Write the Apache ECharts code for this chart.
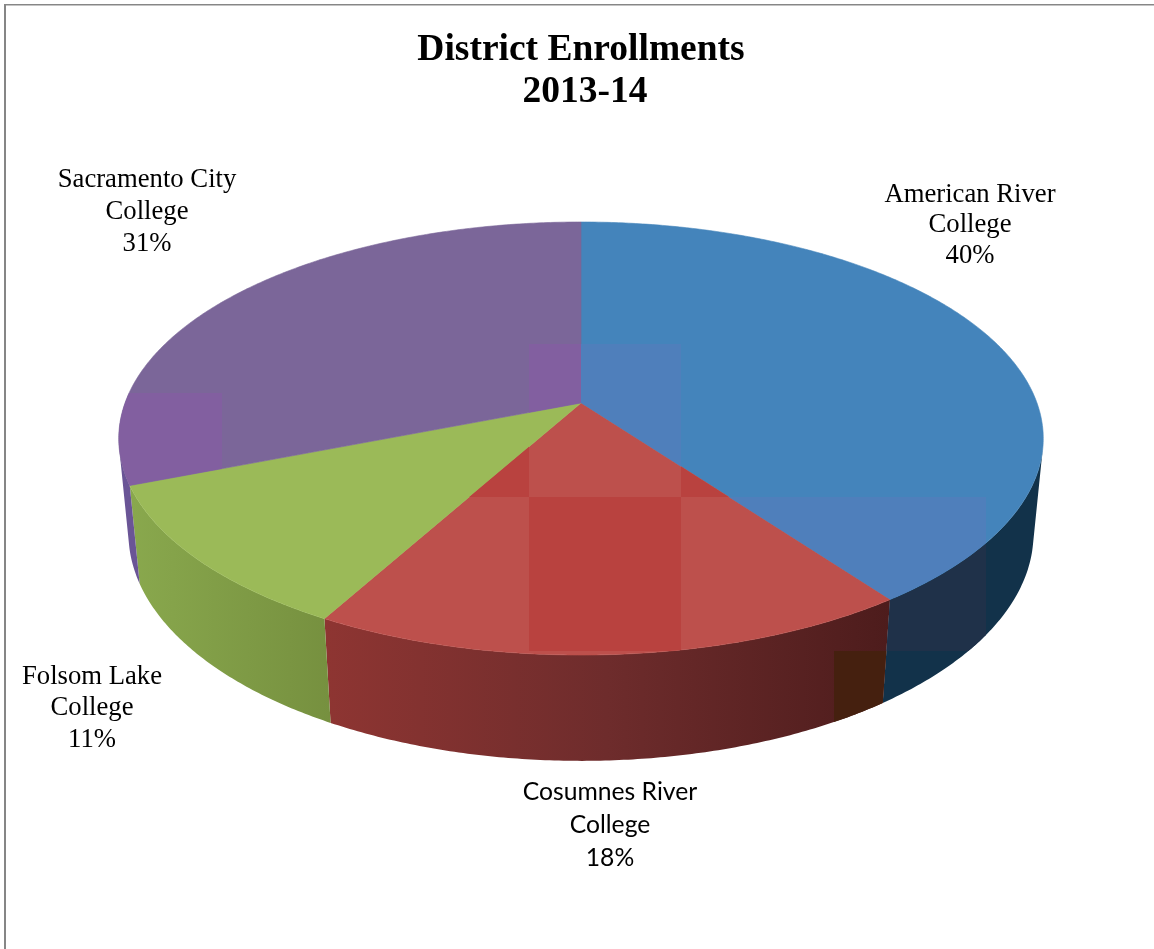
<!DOCTYPE html>
<html>
<head>
<meta charset="utf-8">
<style>html,body{margin:0;padding:0;background:#fff}#chart{width:1154px;height:949px}</style>
<script src="https://cdn.jsdelivr.net/npm/echarts@6/dist/echarts.min.js"></script>
</head>
<body>
<div id="chart"></div>
<script>
// Enrollment share per college, clockwise from twelve o'clock
const colleges = ['American River\nCollege', 'Cosumnes River\nCollege', 'Folsom Lake\nCollege', 'Sacramento City\nCollege'];
const shares = [40, 18, 11, 31];
const titleLines = ['District Enrollments', '2013-14'];

// Slice styling
const topColors = ['#4484BB', '#BD504C', '#9BBA58', '#7B6699'];
const wallStops = [
  ['#12324A', '#12324A'],
  ['#8E3532', '#6E2C2C', '#4D1C1C'],
  ['#89A84D', '#76903F'],
  ['#6A5596', '#6A5596']
];
const wallSpans = [[880, 1045], [325, 890], [131, 331], [120, 140]];

// Label placement and type
const labelAt = [[970, 225], [610, 825], [92, 708], [147, 212]];
const labelFont = [
  ['Liberation Serif', 26.7, 30.5], ['Lato', 24.7, 33],
  ['Liberation Serif', 26.7, 31.5], ['Liberation Serif', 26.7, 32]
];

// Perspective of the tilted disc: unit circle (X, Y) at depth z (0 top face, 1 base)
const cam = { cx: 581, cy: 403, a: 456, b: 210.7, c: 96, p: -0.164, q: 0.021 };
function project(deg, z) {
  const t = deg * Math.PI / 180;
  const X = Math.sin(t), Y = -Math.cos(t);
  const w = 1 + cam.p * Y + cam.q * z;
  return [cam.cx + cam.a * X / w, cam.cy + (cam.b * Y + cam.c * z) / w];
}
function arc(from, to, z) {
  const pts = [];
  const n = Math.max(2, Math.ceil(Math.abs(to - from) * 2));
  for (let i = 0; i <= n; i++) pts.push(project(from + (to - from) * i / n, z));
  return pts;
}

// The rim faces the viewer where its tangent and the depth edge turn clockwise on screen
function facesViewer(deg) {
  const a = project(deg, 0), b = project(deg + 0.1, 0), c = project(deg, 1);
  return (b[0] - a[0]) * (c[1] - a[1]) - (b[1] - a[1]) * (c[0] - a[0]) < 0;
}
let wallFrom = 0, wallTo = 360;
for (let d = 0; d < 180; d += 0.1) { if (facesViewer(d)) { wallFrom = d; break; } }
for (let d = 360; d > 180; d -= 0.1) { if (facesViewer(d)) { wallTo = d; break; } }

// Printed shading blocks laid over the faces: [slice, face, x0, y0, x1, y1, fill]
const shadeBlocks = [
  [0, 'top', 529, 344, 681, 497, '#4F7FBB'],
  [0, 'top', 681, 497, 986, 651, '#4F7FBB'],
  [0, 'wall', 681, 497, 986, 651, '#1F3149'],
  [1, 'top', 377, 344, 529, 497, '#B9423F'],
  [1, 'top', 681, 344, 834, 497, '#B9423F'],
  [1, 'top', 529, 497, 681, 651, '#B9423F'],
  [1, 'wall', 834, 651, 900, 800, '#45200F'],
  [3, 'top', 529, 344, 581, 497, '#825FA0'],
  [3, 'top', 110, 393, 222, 497, '#825FA0']
];

const total = shares.reduce((s, v) => s + v, 0);

function renderSlice(params, api) {
  const i = params.dataIndex;
  const prior = shares.slice(0, i).reduce((s, v) => s + v, 0);
  const start = prior / total * 360;
  const end = (prior + api.value(0)) / total * 360;

  const topFace = [[cam.cx, cam.cy]].concat(arc(start, end, 0));

  // Only the part of the rim turned toward the viewer gets a wall
  const from = Math.max(start, wallFrom), to = Math.min(end, wallTo);
  const wallFace = arc(from, to, 0).concat(arc(to, from, 1));

  const stops = wallStops[i];
  const wallFill = {
    type: 'linear', x: wallSpans[i][0], y: 0, x2: wallSpans[i][1], y2: 0, global: true,
    colorStops: stops.map((color, k) => ({ offset: k / (stops.length - 1), color: color }))
  };

  const wall = [{
    type: 'polygon', z2: 1, shape: { points: wallFace },
    style: { fill: wallFill, stroke: null }
  }];
  const top = [{
    type: 'polygon', z2: 10, shape: { points: topFace },
    style: { fill: topColors[i], stroke: topColors[i], lineWidth: 0.6 }
  }];

  shadeBlocks.filter(b => b[0] === i).forEach(b => {
    const onTop = b[1] === 'top';
    (onTop ? top : wall).push({
      type: 'polygon', z2: onTop ? 11 : 2,
      shape: { points: onTop ? topFace : wallFace },
      clipPath: { type: 'rect', shape: { x: b[2], y: b[3], width: b[4] - b[2], height: b[5] - b[3] } },
      style: { fill: b[6], stroke: null }
    });
  });

  const font = labelFont[i];
  const label = {
    type: 'text', z2: 20,
    style: {
      x: labelAt[i][0], y: labelAt[i][1],
      text: colleges[i] + '\n' + api.value(0) + '%',
      fill: '#000', align: 'center', verticalAlign: 'middle',
      fontFamily: font[0], fontSize: font[1], lineHeight: font[2]
    }
  };
  return { type: 'group', children: wall.concat(top, [label]) };
}

const titleStyle = { fontFamily: 'Liberation Serif', fontWeight: 'bold', fontSize: 37.5, lineHeight: 43, color: '#000' };
const chart = echarts.init(document.getElementById('chart'), null, { renderer: 'canvas' });
chart.setOption({
  animation: false,
  backgroundColor: '#fff',
  title: [
    { text: titleLines[0], left: 581, top: 29, padding: 0, textAlign: 'center', textStyle: titleStyle },
    { text: titleLines[1], left: 585, top: 71, padding: 0, textAlign: 'center', textStyle: titleStyle }
  ],
  graphic: [
    { type: 'rect', shape: { x: 4, y: 4, width: 1150, height: 1 }, style: { fill: '#868686' } },
    { type: 'rect', shape: { x: 6, y: 5, width: 1148, height: 1 }, style: { fill: '#c4c4c4' } },
    { type: 'rect', shape: { x: 4, y: 4, width: 2, height: 945 }, style: { fill: '#868686' } }
  ],
  series: [{
    type: 'custom',
    coordinateSystem: 'none',
    renderItem: renderSlice,
    data: shares.map((v, i) => ({ name: colleges[i], value: [v] })),
    encode: { value: 0 }
  }]
});
</script>
</body>
</html>
